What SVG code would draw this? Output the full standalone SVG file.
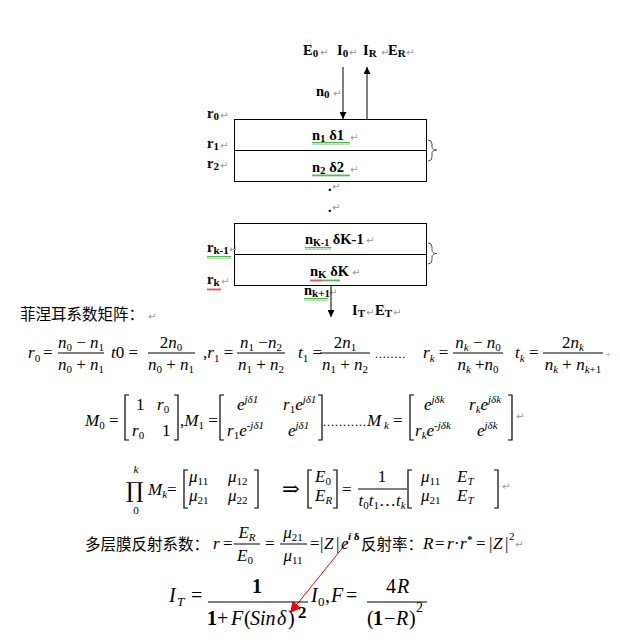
<svg xmlns="http://www.w3.org/2000/svg" width="620" height="643" viewBox="0 0 620 643">
<style>
.lb{font-family:"Liberation Serif",serif;font-weight:bold;font-size:14.5px;fill:#000}
.ls{font-size:11px}
.pm{font-family:"DejaVu Sans",sans-serif;font-size:10px;fill:#999}
.m{font-family:"Liberation Serif","DejaVu Serif",serif;font-size:17px;fill:#000}
.i{font-style:italic}
.s{font-size:11px}
.cn{font-family:"Noto Sans CJK SC","Noto Sans",sans-serif;font-size:15.5px;fill:#000}
.box{fill:none;stroke:#000;stroke-width:1}
.br{fill:none;stroke:#000;stroke-width:1.2}
.brace{fill:none;stroke:#555;stroke-width:1}
.big{font-family:"Liberation Serif",serif;font-size:20px;fill:#000}
.sqg{fill:url(#sqg)}
.sqr{fill:url(#sqr)}
</style>
<defs>
<marker id="ah" viewBox="0 0 10 10" refX="10" refY="5" markerWidth="7" markerHeight="7" orient="auto" markerUnits="userSpaceOnUse"><path d="M0,0 L10,5 L0,10 z" fill="#000"/></marker>
<marker id="ahr" viewBox="0 0 10 10" refX="10" refY="5" markerWidth="11" markerHeight="11" orient="auto" markerUnits="userSpaceOnUse"><path d="M0,0 L10,5 L0,10 z" fill="#f00"/></marker>
<pattern id="sqg" width="4" height="3" patternUnits="userSpaceOnUse"><path d="M0,2.5 L1,0.5 L2,2.5 L3,0.5 L4,2.5" fill="none" stroke="#2a2" stroke-width="0.8"/></pattern>
<pattern id="sqr" width="4" height="3" patternUnits="userSpaceOnUse"><path d="M0,2.5 L1,0.5 L2,2.5 L3,0.5 L4,2.5" fill="none" stroke="#e22" stroke-width="0.8"/></pattern>
</defs>

<g id="incident-labels">
<text class="lb" x="303" y="55">E<tspan class="ls" dy="2">0</tspan></text><text class="pm" x="320" y="56">↵</text>
<text class="lb" x="337" y="55">I<tspan class="ls" dy="2">0</tspan></text><text class="pm" x="349" y="56">↵</text>
<text class="lb" x="363" y="55">I<tspan class="ls" dy="2">R</tspan></text><text class="pm" x="381" y="56">↵</text>
<text class="lb" x="388" y="55">E<tspan class="ls" dy="2">R</tspan></text><text class="pm" x="406" y="56">↵</text>
<text class="lb" x="316" y="96">n<tspan class="ls" dy="2">0</tspan></text><text class="pm" x="333" y="97">↵</text>
</g>

<g id="layer-stack-top">
<rect class="box" x="234.5" y="119.5" width="192" height="62"/>
<line class="box" x1="234.5" y1="150.5" x2="426.5" y2="150.5"/>
<path class="brace" d="M428,140 Q432,140 432,144 L432,147 Q432,150 437,150 Q432,150 432,153 L432,157 Q432,161 428,161"/>
<text class="lb" x="207" y="118">r<tspan class="ls" dy="2">0</tspan></text><text class="pm" x="220" y="119">↵</text>
<text class="lb" x="207" y="148">r<tspan class="ls" dy="2">1</tspan></text><text class="pm" x="220" y="149">↵</text>
<text class="lb" x="207" y="168">r<tspan class="ls" dy="2">2</tspan></text><text class="pm" x="220" y="169">↵</text>
<text class="lb" x="312" y="140">n<tspan class="ls" dy="2">1</tspan><tspan dy="-2">   δ1</tspan></text><text class="pm" x="350" y="141">↵</text>
<rect class="sqg" x="312" y="142" width="38" height="3"/>
<text class="lb" x="312" y="172">n<tspan class="ls" dy="2">2</tspan><tspan dy="-2">   δ2</tspan></text><text class="pm" x="350" y="173">↵</text>
<rect class="sqg" x="312" y="174" width="38" height="3"/>
</g>

<g id="ellipsis">
<text class="lb" x="328" y="191">.</text><text class="pm" x="332" y="190">↵</text>
<text class="lb" x="328" y="212">.</text><text class="pm" x="332" y="211">↵</text>
</g>

<g id="layer-stack-bottom">
<rect class="box" x="234.5" y="223.5" width="192" height="62"/>
<line class="box" x1="234.5" y1="254.5" x2="426.5" y2="254.5"/>
<path class="brace" d="M428,243 Q432,243 432,247 L432,250 Q432,253.5 437,253.5 Q432,253.5 432,257 L432,260 Q432,264 428,264"/>
<text class="lb" x="305" y="244" font-size="13.5">n<tspan font-size="10" dy="2">K-1</tspan><tspan dy="-2"> δK-1</tspan></text><text class="pm" x="366" y="244">↵</text>
<rect class="sqg" x="305" y="247" width="26" height="3"/>
<text class="lb" x="207" y="252">r<tspan class="ls" dy="2">k-1</tspan></text><text class="pm" x="229" y="253">↵</text>
<rect class="sqg" x="207" y="256" width="24" height="3"/>
<text class="lb" x="310" y="276">n<tspan class="ls" dy="2">K</tspan><tspan dy="-2">    δK</tspan></text><text class="pm" x="352" y="276">↵</text>
<rect class="sqr" x="310" y="279" width="12" height="3"/>
<rect class="sqg" x="322" y="279" width="18" height="3"/>
<text class="lb" x="207" y="284">r<tspan class="ls" dy="2">k</tspan></text><text class="pm" x="221" y="285">↵</text>
<rect class="sqr" x="207" y="288" width="14" height="3"/>
<text class="lb" x="304" y="295">n<tspan class="ls" dy="2">k+1</tspan></text><text class="pm" x="329" y="296">↵</text>
<rect class="sqg" x="304" y="298" width="24" height="3"/>
<text class="lb" x="352" y="315">I<tspan class="ls" dy="2">T</tspan></text><text class="pm" x="366" y="316">↵</text>
<text class="lb" x="375" y="315">E<tspan class="ls" dy="2">T</tspan></text><text class="pm" x="393" y="316">↵</text>
</g>

<g id="connectors">
<line x1="343" y1="67" x2="343" y2="119" stroke="#000" stroke-width="1" marker-end="url(#ah)"/>
<line x1="367" y1="119" x2="367" y2="67" stroke="#000" stroke-width="1" marker-end="url(#ah)"/>
<line x1="331" y1="286" x2="331" y2="317" stroke="#000" stroke-width="1" marker-end="url(#ah)"/>
<line x1="348" y1="541" x2="290" y2="613" stroke="#f00" stroke-width="1" marker-end="url(#ahr)"/>
</g>

<g id="fresnel-title">
<text class="cn" x="20" y="320">菲涅耳系数矩阵：</text><text class="pm" x="148" y="320">↵</text>
</g>

<g id="fresnel-coefficients" class="m">
<text x="28" y="358" class="i">r<tspan class="s" dy="4" font-style="normal">0</tspan></text>
<text x="43" y="358">=</text>
<line x1="58" y1="353" x2="104" y2="353" stroke="#000"/>
<text x="81" y="348" text-anchor="middle"><tspan class="i">n</tspan><tspan class="s" dy="3">0</tspan><tspan dy="-3"> − </tspan><tspan class="i">n</tspan><tspan class="s" dy="3">1</tspan></text>
<text x="81" y="370" text-anchor="middle"><tspan class="i">n</tspan><tspan class="s" dy="3">0</tspan><tspan dy="-3"> + </tspan><tspan class="i">n</tspan><tspan class="s" dy="3">1</tspan></text>

<text x="111" y="358"><tspan class="i">t</tspan>0 =</text>
<line x1="148" y1="353" x2="195" y2="353" stroke="#000"/>
<text x="171" y="348" text-anchor="middle">2<tspan class="i">n</tspan><tspan class="s" dy="3">0</tspan></text>
<text x="171" y="370" text-anchor="middle"><tspan class="i">n</tspan><tspan class="s" dy="3">0</tspan><tspan dy="-3"> + </tspan><tspan class="i">n</tspan><tspan class="s" dy="3">1</tspan></text>

<text x="203" y="358">,<tspan class="i">r</tspan><tspan class="s" dy="4">1</tspan><tspan dy="-4"> =</tspan></text>
<line x1="237" y1="353" x2="285" y2="353" stroke="#000"/>
<text x="261" y="348" text-anchor="middle"><tspan class="i">n</tspan><tspan class="s" dy="3">1</tspan><tspan dy="-3"> −</tspan><tspan class="i">n</tspan><tspan class="s" dy="3">2</tspan></text>
<text x="261" y="370" text-anchor="middle"><tspan class="i">n</tspan><tspan class="s" dy="3">1</tspan><tspan dy="-3"> + </tspan><tspan class="i">n</tspan><tspan class="s" dy="3">2</tspan></text>

<text x="298" y="358"><tspan class="i">t</tspan><tspan class="s" dy="4">1</tspan><tspan dy="-4"> =</tspan></text>
<line x1="320" y1="353" x2="370" y2="353" stroke="#000"/>
<text x="345" y="348" text-anchor="middle">2<tspan class="i">n</tspan><tspan class="s" dy="3">1</tspan></text>
<text x="345" y="370" text-anchor="middle"><tspan class="i">n</tspan><tspan class="s" dy="3">1</tspan><tspan dy="-3"> + </tspan><tspan class="i">n</tspan><tspan class="s" dy="3">2</tspan></text>
<text x="375" y="358" font-size="12" letter-spacing="0.9">........</text>

<text x="423" y="358"><tspan class="i">r</tspan><tspan class="s i" dy="4">k</tspan><tspan dy="-4"> =</tspan></text>
<line x1="453" y1="353" x2="503" y2="353" stroke="#000"/>
<text x="478" y="348" text-anchor="middle"><tspan class="i">n</tspan><tspan class="s i" dy="3">k</tspan><tspan dy="-3"> − </tspan><tspan class="i">n</tspan><tspan class="s" dy="3">0</tspan></text>
<text x="478" y="370" text-anchor="middle"><tspan class="i">n</tspan><tspan class="s i" dy="3">k</tspan><tspan dy="-3"> +</tspan><tspan class="i">n</tspan><tspan class="s" dy="3">0</tspan></text>

<text x="515" y="358"><tspan class="i">t</tspan><tspan class="s i" dy="4">k</tspan><tspan dy="-4"> =</tspan></text>
<line x1="543" y1="353" x2="603" y2="353" stroke="#000"/>
<text x="573" y="348" text-anchor="middle">2<tspan class="i">n</tspan><tspan class="s i" dy="3">k</tspan></text>
<text x="573" y="370" text-anchor="middle"><tspan class="i">n</tspan><tspan class="s i" dy="3">k</tspan><tspan dy="-3"> + </tspan><tspan class="i">n</tspan><tspan class="s" dy="3"><tspan class="i">k</tspan>+1</tspan></text>
<text x="605" y="358" font-size="11" fill="#aaa">+</text>
</g>

<g id="transfer-matrices" class="m">
<text x="85" y="426"><tspan class="i">M</tspan><tspan class="s" dy="3">0</tspan><tspan dy="-3"> =</tspan></text>
<path class="br" d="M129,395 L125,395 L125,440 L129,440 M174,395 L178,395 L178,440 L174,440"/>
<text x="136" y="410">1</text><text x="157" y="410" class="i">r<tspan class="s" dy="3" font-style="normal">0</tspan></text>
<text x="132" y="436" class="i">r<tspan class="s" dy="3" font-style="normal">0</tspan></text><text x="162" y="436">1</text>
<text x="180" y="426">,<tspan class="i">M</tspan><tspan class="s" dy="3">1</tspan><tspan dy="-3"> =</tspan></text>
<path class="br" d="M224,395 L220,395 L220,440 L224,440 M318,395 L322,395 L322,440 L318,440"/>
<text x="237" y="410"><tspan class="i">e</tspan><tspan class="s i" dy="-7">jδ1</tspan></text>
<text x="283" y="410"><tspan class="i">r</tspan><tspan class="s" dy="3">1</tspan><tspan class="i" dy="-3">e</tspan><tspan class="s i" dy="-7">jδ1</tspan></text>
<text x="227" y="436"><tspan class="i">r</tspan><tspan class="s" dy="3">1</tspan><tspan class="i" dy="-3">e</tspan><tspan class="s i" dy="-7">-jδ1</tspan></text>
<text x="288" y="436"><tspan class="i">e</tspan><tspan class="s i" dy="-7">jδ1</tspan></text>
<text x="323" y="426" font-size="12" letter-spacing="1">...........</text>
<text x="367" y="426"><tspan class="i">M</tspan><tspan class="s i" dy="3"> k</tspan><tspan dy="-3"> =</tspan></text>
<path class="br" d="M414,395 L410,395 L410,440 L414,440 M508,395 L512,395 L512,440 L508,440"/>
<text x="424" y="410"><tspan class="i">e</tspan><tspan class="s i" dy="-7">jδk</tspan></text>
<text x="469" y="410"><tspan class="i">r</tspan><tspan class="s i" dy="3">k</tspan><tspan class="i" dy="-3">e</tspan><tspan class="s i" dy="-7">jδk</tspan></text>
<text x="415" y="436"><tspan class="i">r</tspan><tspan class="s i" dy="3">k</tspan><tspan class="i" dy="-3">e</tspan><tspan class="s i" dy="-7">-jδk</tspan></text>
<text x="477" y="436"><tspan class="i">e</tspan><tspan class="s i" dy="-7">jδk</tspan></text>
<text class="pm" x="516" y="420">↵</text>
</g>

<g id="product-relation" class="m">
<text x="126" y="498" font-size="22" font-family="'DejaVu Serif',serif">∏</text>
<text x="136" y="473" class="s i" text-anchor="middle">k</text>
<text x="136" y="514" class="s" text-anchor="middle">0</text>
<text x="148" y="495"><tspan class="i">M</tspan><tspan class="s i" dy="3">k</tspan><tspan dy="-3">=</tspan></text>
<path class="br" d="M188,470 L184,470 L184,508 L188,508 M254,470 L258,470 L258,508 L254,508"/>
<text x="189" y="482"><tspan class="i">μ</tspan><tspan class="s" dy="3">11</tspan></text>
<text x="228" y="482"><tspan class="i">μ</tspan><tspan class="s" dy="3">12</tspan></text>
<text x="189" y="501"><tspan class="i">μ</tspan><tspan class="s" dy="3">21</tspan></text>
<text x="228" y="501"><tspan class="i">μ</tspan><tspan class="s" dy="3">22</tspan></text>
<text x="282" y="496" font-size="21">⇒</text>
<path class="br" d="M312,470 L308,470 L308,508 L312,508 M333,470 L337,470 L337,508 L333,508"/>
<text x="315" y="482"><tspan class="i">E</tspan><tspan class="s" dy="3">0</tspan></text>
<text x="315" y="501"><tspan class="i">E</tspan><tspan class="s i" dy="3">R</tspan></text>
<text x="342" y="495">=</text>
<line x1="358" y1="489" x2="407" y2="489" stroke="#000"/>
<text x="382" y="482" text-anchor="middle">1</text>
<text x="382" y="506" text-anchor="middle"><tspan class="i">t</tspan><tspan class="s" dy="3">0</tspan><tspan class="i" dy="-3">t</tspan><tspan class="s" dy="3">1</tspan><tspan dy="-3">…</tspan><tspan class="i">t</tspan><tspan class="s i" dy="3">k</tspan></text>
<path class="br" d="M412,470 L408,470 L408,508 L412,508 M494,470 L498,470 L498,508 L494,508"/>
<text x="421" y="482"><tspan class="i">μ</tspan><tspan class="s" dy="3">11</tspan></text>
<text x="457" y="482"><tspan class="i">E</tspan><tspan class="s i" dy="3">T</tspan></text>
<text x="421" y="501"><tspan class="i">μ</tspan><tspan class="s" dy="3">21</tspan></text>
<text x="457" y="501"><tspan class="i">E</tspan><tspan class="s i" dy="3">T</tspan></text>
<text class="pm" x="502" y="490">↵</text>
</g>

<g id="reflection" class="m">
<text class="cn" x="85" y="550">多层膜反射系数：</text>
<text x="213" y="549" class="i">r</text>
<text x="223" y="549">=</text>
<line x1="234" y1="544" x2="260" y2="544" stroke="#000"/>
<text x="247" y="538" text-anchor="middle"><tspan class="i">E</tspan><tspan class="s i" dy="3">R</tspan></text>
<text x="245" y="561" text-anchor="middle"><tspan class="i">E</tspan><tspan class="s" dy="3">0</tspan></text>
<text x="265" y="549">=</text>
<line x1="280" y1="544" x2="307" y2="544" stroke="#000"/>
<text x="293" y="538" text-anchor="middle"><tspan class="i">μ</tspan><tspan class="s" dy="3">21</tspan></text>
<text x="293" y="561" text-anchor="middle"><tspan class="i">μ</tspan><tspan class="s" dy="3">11</tspan></text>
<text x="310" y="549">=</text>
<text x="320" y="549">|</text>
<text x="324" y="549" class="i">Z</text>
<text x="336" y="549">|</text>
<text x="341" y="549" class="i">e</text>
<text x="348" y="540" class="s" font-weight="bold"><tspan class="i">i</tspan> δ</text>
<text class="cn" x="361" y="550" font-size="13.5">反射率：</text>
<text x="423" y="549" class="i">R</text>
<text x="435" y="549">=</text>
<text x="447" y="549" class="i">r</text>
<text x="454" y="549">·</text>
<text x="460" y="549" class="i">r</text>
<text x="467" y="543" class="s" font-weight="bold">*</text>
<text x="476" y="549">=</text>
<text x="489" y="549">|</text>
<text x="493" y="549" class="i">Z</text>
<text x="505" y="549">|</text>
<text x="509" y="540" class="s">2</text>
<text class="pm" x="515" y="548">↵</text>
</g>

<g id="intensity" class="big">
<text x="169" y="602" class="i">I</text>
<text x="177" y="606" font-size="13" class="i">T</text>
<text x="191" y="602">=</text>
<line x1="208" y1="602" x2="308" y2="602" stroke="#000" stroke-width="1.2"/>
<text x="257" y="593" font-weight="bold" text-anchor="middle">1</text>
<text x="207" y="625" font-weight="bold">1</text>
<text x="217" y="625">+</text>
<text x="231" y="625" class="i">F</text>
<text x="244" y="625">(</text>
<text x="250" y="625" class="i">Sin</text>
<text x="277" y="625" class="i">δ</text>
<text x="288" y="625">)</text>
<text x="298" y="618" font-size="17" font-weight="bold">2</text>
<text x="311" y="602" class="i">I</text>
<text x="318" y="606" font-size="13">0</text>
<text x="325" y="602">,</text>
<text x="331" y="602" class="i">F</text>
<text x="346" y="602">=</text>
<line x1="367" y1="602" x2="427" y2="602" stroke="#000" stroke-width="1.2"/>
<text x="386" y="593">4</text>
<text x="397" y="593" class="i">R</text>
<text x="367" y="625">(</text>
<text x="373" y="625" font-weight="bold">1</text>
<text x="384" y="625">−</text>
<text x="396" y="625" class="i">R</text>
<text x="409" y="625">)</text>
<text x="416" y="612" font-size="14">2</text>
</g>
</svg>
